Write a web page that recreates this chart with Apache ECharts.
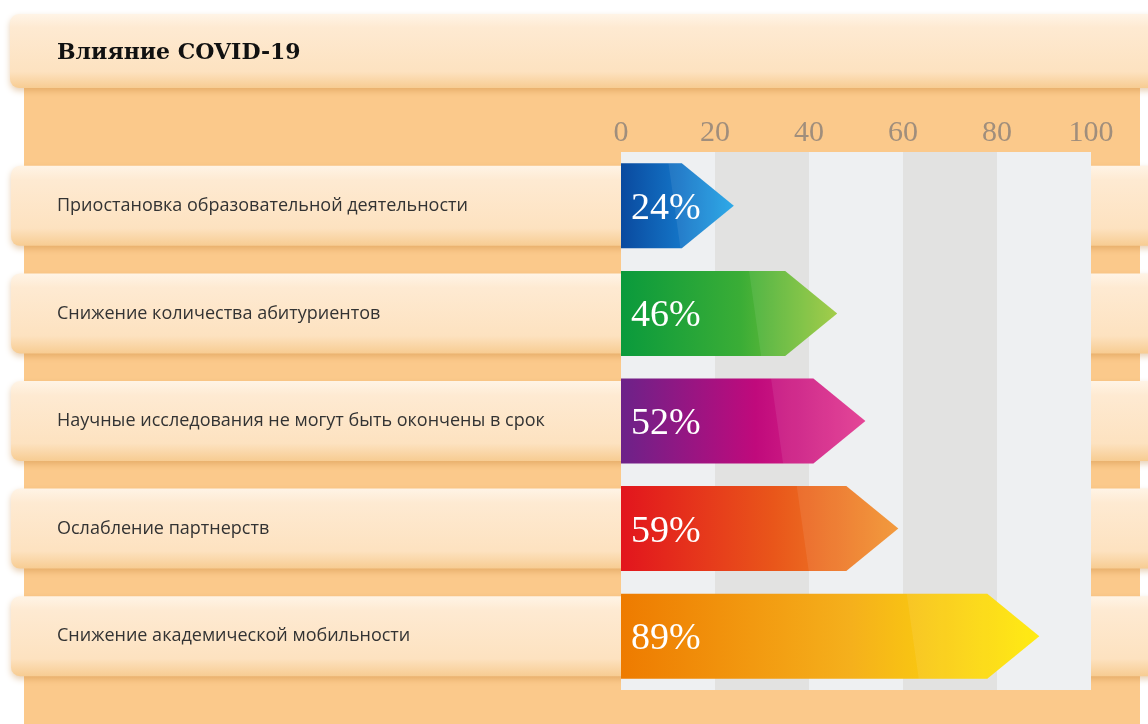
<!DOCTYPE html>
<html><head><meta charset="utf-8">
<script src="https://cdn.jsdelivr.net/npm/echarts@6/dist/echarts.min.js"></script>
<style>html,body{margin:0;padding:0;background:#fff}#c{width:1148px;height:724px}</style>
</head><body><div id="c"></div>
<script>
const title = 'Влияние COVID-19';
const categories = [
  'Приостановка образовательной деятельности',
  'Снижение количества абитуриентов',
  'Научные исследования не могут быть окончены в срок',
  'Ослабление партнерств',
  'Снижение академической мобильности'
];
const values = [24, 46, 52, 59, 89];
const ticks = [0, 20, 40, 60, 80, 100];

const barColors = [
  ['#0a4a9f', '#1476c8', '#1ea3e6'],
  ['#0a9a3c', '#3aad36', '#9cc93c'],
  ['#6c2289', '#c00a7c', '#e2378f'],
  ['#e2151d', '#e9561a', '#f1932e'],
  ['#ee7b00', '#f5b01c', '#ffea00']
];
const bandColors = ['#eef0f2', '#e2e2e1'];

const W = 1148, H = 724;
const chart = echarts.init(document.getElementById('c'), null, {renderer: 'canvas'});

const bannerFill = new echarts.graphic.LinearGradient(0, 0, 0, 1, [
  {offset: 0, color: '#fff4e6'},
  {offset: 0.18, color: '#feead2'},
  {offset: 0.78, color: '#fde2c0'},
  {offset: 1, color: '#f7cc92'}
]);

chart.setOption({
  animation: false,
  backgroundColor: '#ffffff',
  graphic: [
    {type: 'rect', z: 0, shape: {x: 24, y: 80, width: 1116, height: 650}, style: {fill: '#fbc98b'}},
    {type: 'rect', z: 1, shape: {x: 10, y: 14, width: 1150, height: 74, r: 9},
      style: {fill: bannerFill, shadowBlur: 6, shadowOffsetY: 3, shadowColor: 'rgba(190,120,40,0.35)'}},
    {type: 'text', z: 2, left: 57, top: 42,
      style: {text: title, fill: '#111', font: 'bold 22px "DejaVu Serif", serif'}}
  ],
  grid: {left: 621, right: 57, top: 152, bottom: 34},
  xAxis: {
    type: 'value', position: 'top', min: ticks[0], max: ticks[ticks.length - 1], interval: 20,
    z: 10,
    axisLine: {show: false}, axisTick: {show: false}, splitLine: {show: false},
    axisLabel: {margin: 4, color: '#a08e7c', fontSize: 30, fontFamily: '"Liberation Serif", serif'}
  },
  yAxis: {
    type: 'category', data: categories, inverse: true, z: 10,
    axisLine: {show: false}, axisTick: {show: false},
    axisLabel: {align: 'left', margin: 564, color: '#333333', fontSize: 18, fontFamily: '"Open Sans", sans-serif'}
  },
  series: [
    {
      type: 'custom', z: 2, silent: true,
      data: categories.map((c, i) => [0, i]),
      encode: {x: 0, y: 1},
      renderItem: function (params, api) {
        const yc = api.coord([0, api.value(1)])[1];
        return {type: 'rect', shape: {x: 11, y: yc - 40, width: W, height: 80, r: 9},
          style: {fill: bannerFill, shadowBlur: 6, shadowOffsetY: 3, shadowColor: 'rgba(190,120,40,0.35)'}};
      }
    },
    {
      type: 'custom', z: 3, silent: true,
      data: ticks.slice(0, -1).map((t, i) => [t, ticks[i + 1], i]),
      encode: {x: [0, 1]},
      renderItem: function (params, api) {
        const cs = params.coordSys;
        const x0 = api.coord([api.value(0), 0])[0];
        const x1 = api.coord([api.value(1), 0])[0];
        return {type: 'rect', shape: {x: x0, y: cs.y, width: x1 - x0, height: cs.height},
          style: {fill: bandColors[api.value(2) % 2]}};
      }
    },
    {
      type: 'custom', z: 4, silent: true,
      data: values.map((v, i) => [v, i]),
      encode: {x: 0, y: 1},
      renderItem: function (params, api) {
        const i = api.value(1), v = api.value(0);
        const p0 = api.coord([0, i]);
        const p1 = api.coord([v, i]);
        const h = api.size([0, 1])[1] * 0.79;
        const head = 52;
        const x0 = p0[0], xe = p1[0], yc = p0[1];
        const cols = barColors[i];
        const fill = new echarts.graphic.LinearGradient(0, 0, 1, 0, [
          {offset: 0, color: cols[0]}, {offset: 0.55, color: cols[1]}, {offset: 1, color: cols[2]}
        ]);
        const bodyEnd = xe - head;
        const gx = x0 + (bodyEnd - x0) * 0.78;
        return {
          type: 'group',
          children: [
            {type: 'polygon', shape: {points: [[x0, yc - h / 2], [bodyEnd, yc - h / 2], [xe, yc], [bodyEnd, yc + h / 2], [x0, yc + h / 2]]},
              style: {fill: fill}},
            {type: 'polygon', shape: {points: [[gx, yc - h / 2], [bodyEnd, yc - h / 2], [xe, yc], [bodyEnd, yc + h / 2], [gx + 12, yc + h / 2]]},
              style: {fill: 'rgba(255,255,255,0.08)'}},
            {type: 'text', style: {text: v + '%', x: x0 + 10, y: yc + 3, verticalAlign: 'middle', align: 'left',
              fill: '#ffffff', font: '38px "Liberation Serif", serif'}}
          ]
        };
      }
    }
  ]
});
</script></body></html>
